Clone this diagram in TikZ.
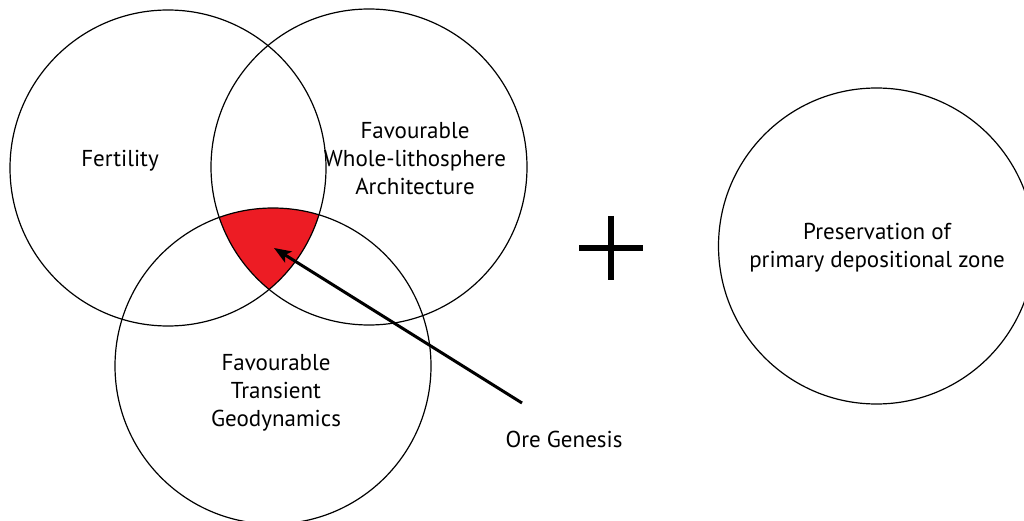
\documentclass[tikz,border=0pt]{standalone}
\usepackage{fontspec}
\setmainfont{PT Sans}
\usetikzlibrary{arrows.meta}
\definecolor{orered}{HTML}{ED1C24}
\begin{document}
\begin{tikzpicture}[x=1pt,y=-1pt,
  ring/.style={circle, draw, line width=1.2pt, minimum size=316pt, inner sep=0pt},
  lbl/.style={font=\fontsize{23}{28}\selectfont, align=center, inner sep=0pt},
  pointer/.style={line width=3pt, -{Stealth[length=17pt,width=13pt,inset=4pt]}},
  bar/.style={line width=6pt}]
\clip (0,0) rectangle (1024,521);
% overlap of all three circles
\begin{scope}
  \clip (168,168) circle[radius=158pt];
  \clip (369,167) circle[radius=158pt];
  \fill[orered] (273,366) circle[radius=158pt];
\end{scope}
\node[ring] (fert) at (168,168) {};
\node[ring] (arch) at (369,167) {};
\node[ring] (geo)  at (273,366) {};
\node[ring] (pres) at (876.5,246) {};
\node[lbl] (tfert) at (120,161) {Fertility};
\node[lbl] (tarch) at (415,159) {Favourable\\Whole-lithosphere\\Architecture};
\node[lbl] (tgeo)  at (276,393) {Favourable\\Transient\\Geodynamics};
\node[lbl] (tpres) at (877,248) {Preservation of\\primary depositional zone};
\node[lbl] (tore)  at (564,439) {Ore Genesis};
% plus sign
\coordinate (pl) at (579,248);
\coordinate (pr) at (643,248);
\coordinate (pt) at (611,216);
\coordinate (pb) at (611,280);
\draw[bar] (pl) -- (pr);
\draw[bar] (pt) -- (pb);
% arrow into the overlap
\coordinate (tail) at (522,403);
\coordinate (tip) at (274,248);
\draw[pointer] (tail) -- (tip);
\end{tikzpicture}
\end{document}
